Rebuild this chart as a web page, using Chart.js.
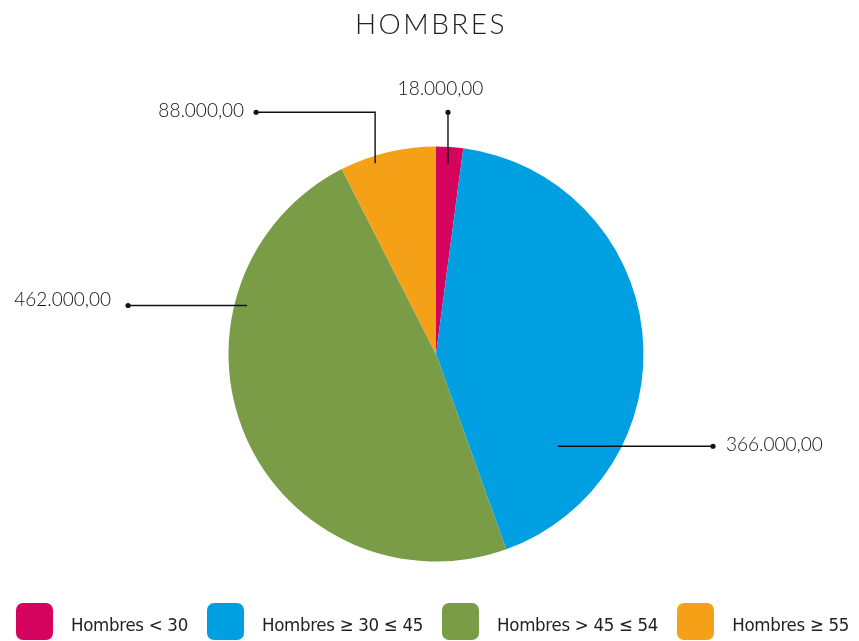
<!DOCTYPE html>
<html lang="es">
<head>
<meta charset="utf-8">
<title>Hombres</title>
<script src="https://cdn.jsdelivr.net/npm/chart.js@4/dist/chart.umd.min.js"></script>
<style>
    html, body {
        margin: 0;
        padding: 0;
        background: #ffffff;
    }
    #wrap {
        position: relative;
        width: 859px;
        height: 641px;
        overflow: hidden;
    }
    #pieChart {
        position: absolute;
        left: 0;
        top: 0;
    }
    #title {
        position: absolute;
        left: 0;
        width: 862px;
        top: 6px;
        text-align: center;
        font-family: Lato, 'Open Sans', sans-serif;
        font-weight: 300;
        font-size: 28px;
        letter-spacing: 2.5px;
        color: #222222;
        line-height: 34px;
    }
    #legend {
        position: absolute;
        left: 16px;
        top: 603px;
        display: flex;
        align-items: center;
        gap: 19px;
        white-space: nowrap;
        font-family: 'Liberation Sans Narrow', 'DejaVu Sans Condensed', Roboto, sans-serif;
        font-size: 18.5px;
        letter-spacing: -0.3px;
        color: #222222;
    }
    .legend-item {
        display: flex;
        align-items: center;
        gap: 18px;
    }
    .legend-item span {
        padding-top: 6px;
    }
    .legend-box {
        width: 37px;
        height: 37px;
        border-radius: 7px;
    }
</style>
</head>
<body>
<div id="wrap">
    <canvas id="pieChart" width="859" height="641"></canvas>
    <div id="title"></div>
    <div id="legend"></div>
</div>

<script>
    // ============================================
    // Data
    // ============================================

    const TITLE = 'HOMBRES';
    const CATEGORIES = ['Hombres < 30', 'Hombres \u2265 30 \u2264 45', 'Hombres > 45 \u2264 54', 'Hombres \u2265 55'];
    // values printed in the callouts
    const VALUES = [18000, 366000, 462000, 88000];
    // slice shares as drawn in the picture (percent of the circle)
    const SHARES = [2.1, 42.4, 48.0, 7.5];
    const COLORS = ['#d5035d', '#009fe2', '#7a9c47', '#f5a118'];

    // ============================================
    // Callout placement
    // angle: degrees clockwise from top, r: fraction of radius
    // ============================================

    const CALLOUTS = [
        { angle: 3.6,   r: 0.92,  kind: 'up',    top: 1.165 },
        { angle: 127.1, r: 0.737, kind: 'side',  dx: 1.335,  text: 13 },
        { angle: 284.4, r: 0.94,  kind: 'side',  dx: -1.484, text: -17 },
        { angle: 342.3, r: 0.965, kind: 'elbow', top: 1.165, dx: -0.867, text: -12 }
    ];

    const LABEL_FONT = '300 19px Lato, "Open Sans", sans-serif';

    function formatValue(v) {
        return v.toLocaleString('de-DE', { minimumFractionDigits: 2, maximumFractionDigits: 2 });
    }

    function dot(ctx, x, y) {
        ctx.beginPath();
        ctx.arc(x, y, 2.6, 0, Math.PI * 2);
        ctx.fill();
    }

    // ============================================
    // Callout plugin
    // ============================================

    const calloutPlugin = {
        id: 'callouts',
        afterDatasetsDraw(chart) {
            const ctx = chart.ctx;
            const arcs = chart.getDatasetMeta(0).data;

            ctx.save();
            ctx.strokeStyle = '#111111';
            ctx.fillStyle = '#111111';
            ctx.lineWidth = 1.4;
            ctx.font = LABEL_FONT;

            arcs.forEach((arc, i) => {
                const c = CALLOUTS[i];
                const cx = arc.x, cy = arc.y, R = arc.outerRadius;
                const a = c.angle * Math.PI / 180;
                const ax = cx + Math.sin(a) * R * c.r;
                const ay = cy - Math.cos(a) * R * c.r;
                const label = formatValue(VALUES[i]);

                ctx.beginPath();
                ctx.moveTo(ax, ay);

                if (c.kind === 'up') {
                    const dy = cy - R * c.top;
                    ctx.lineTo(ax, dy);
                    ctx.stroke();
                    dot(ctx, ax, dy);
                    ctx.textAlign = 'center';
                    ctx.textBaseline = 'alphabetic';
                    ctx.fillText(label, ax - 7.5, dy - 17);
                } else if (c.kind === 'elbow') {
                    const dy = cy - R * c.top;
                    const dx = cx + R * c.dx;
                    ctx.lineTo(ax, dy);
                    ctx.lineTo(dx, dy);
                    ctx.stroke();
                    dot(ctx, dx, dy);
                    ctx.textAlign = 'right';
                    ctx.textBaseline = 'middle';
                    ctx.fillText(label, dx + c.text, dy - 1.5);
                } else {
                    const dx = cx + R * c.dx;
                    ctx.lineTo(dx, ay);
                    ctx.stroke();
                    dot(ctx, dx, ay);
                    ctx.textAlign = c.text < 0 ? 'right' : 'left';
                    ctx.textBaseline = 'middle';
                    ctx.fillText(label, dx + c.text, ay - (c.text < 0 ? 6 : 1));
                }
            });

            ctx.restore();
        }
    };

    // ============================================
    // Chart
    // ============================================

    const chart = new Chart(document.getElementById('pieChart'), {
        type: 'pie',
        data: {
            labels: CATEGORIES,
            datasets: [{
                data: SHARES,
                backgroundColor: COLORS,
                borderWidth: 0
            }]
        },
        options: {
            responsive: false,
            animation: false,
            layout: {
                padding: { top: 146.5, bottom: 79.5, left: 13, right: 0 }
            },
            plugins: {
                legend: { display: false },
                tooltip: { enabled: false },
                title: { display: false }
            }
        },
        plugins: [calloutPlugin]
    });

    // ============================================
    // Title and legend (HTML)
    // ============================================

    document.getElementById('title').textContent = TITLE;

    const legendEl = document.getElementById('legend');
    CATEGORIES.forEach((name, i) => {
        const item = document.createElement('div');
        item.className = 'legend-item';
        const box = document.createElement('div');
        box.className = 'legend-box';
        box.style.background = COLORS[i];
        const txt = document.createElement('span');
        txt.textContent = name;
        item.appendChild(box);
        item.appendChild(txt);
        legendEl.appendChild(item);
    });
</script>
</body>
</html>
